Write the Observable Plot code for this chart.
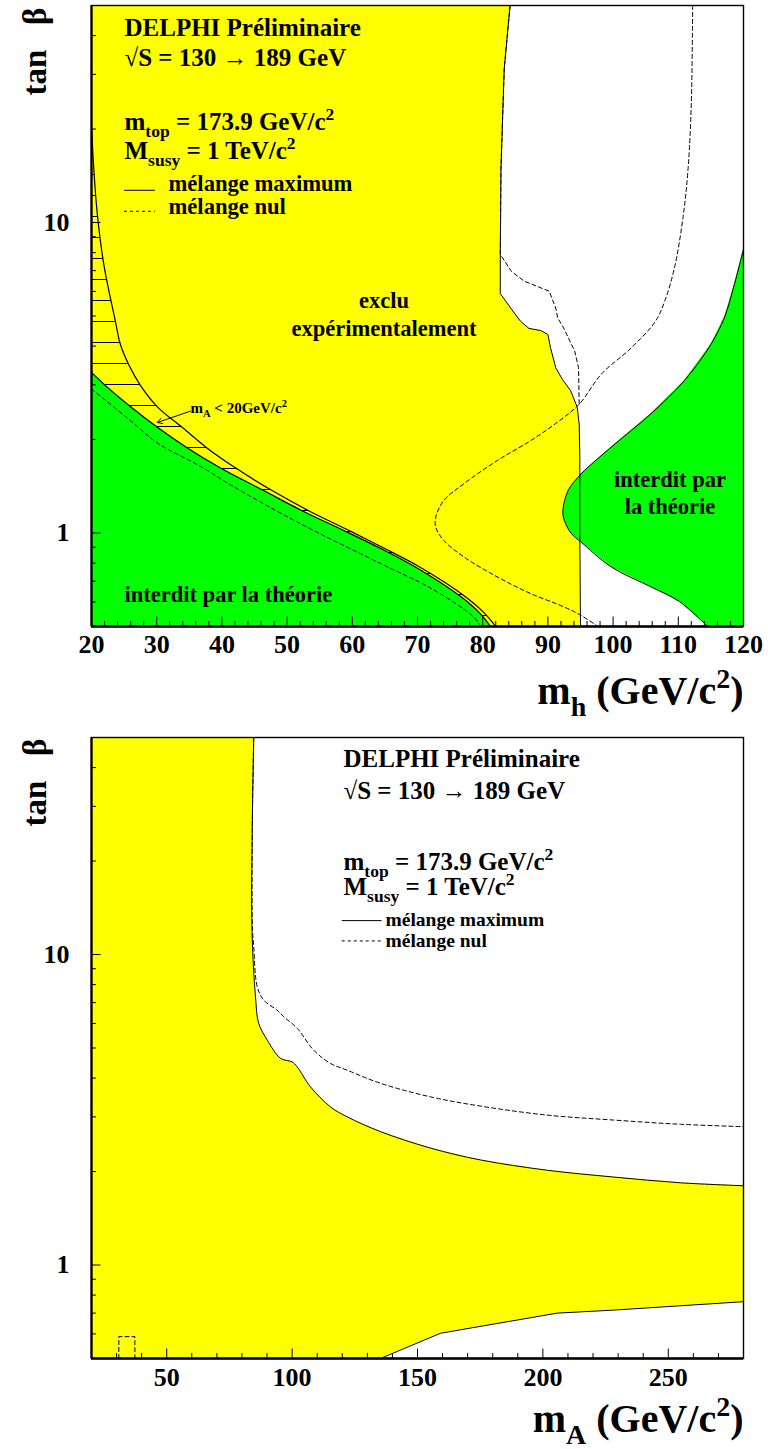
<!DOCTYPE html>
<html><head><meta charset="utf-8">
<script src="https://cdn.jsdelivr.net/npm/d3@7"></script>
<script src="https://cdn.jsdelivr.net/npm/@observablehq/plot@0.6"></script>
<style>
html,body{margin:0;padding:0;background:#fff;overflow:hidden;}
#chart svg{display:block;}
</style></head>
<body><div id="chart"></div>
<script>
// ---------------- DATA : top panel (m_h vs tan beta) ----------------
const topXLabels = [20, 30, 40, 50, 60, 70, 80, 90, 100, 110, 120];
const yLabels = [1, 10];
const yMinorTicks = [0.6, 0.7, 0.8, 0.9, 2, 3, 4, 5, 6, 7, 8, 9, 20, 30, 40];

// experimental exclusion, maximal mixing (solid)
const exclTopMh = [84.2, 83.3, 82.8, 82.7, 82.7, 84.3, 85.8, 87.1, 88.9, 90.0, 90.4, 91.2, 92.2, 93.5, 94.5, 94.8, 94.9, 94.9, 95.0];
const exclTopTb = [50, 31.2, 14.9, 7.89, 5.90, 5.30, 4.81, 4.56, 4.49, 4.36, 3.95, 3.41, 3.13, 2.87, 2.54, 2.24, 1.75, 0.95, 0.5];
// experimental exclusion, no mixing (dashed)
const exclNulMh = [84.2, 83.3, 82.8, 82.7, 84.4, 86.4, 90.2, 91.2, 91.5, 92.4, 94.1, 94.7, 94.8];
const exclNulTb = [50, 31.2, 14.9, 7.89, 6.96, 6.47, 6.01, 5.30, 4.93, 4.58, 3.86, 3.41, 2.60];
// theoretical bound, no mixing (dashed)
const theoNulMh = [112.2, 112.0, 111.5, 110.7, 109.4, 107.9, 106.5, 102.8, 98.2, 94.8, 91.4, 87.3, 82.2, 77.1, 74.0, 72.8, 72.8, 74.0, 77.1, 82.2, 87.3, 92.4, 95.0, 97.7];
const theoNulTb = [50, 24.4, 14.9, 10.3, 7.13, 5.57, 4.81, 3.95, 3.25, 2.60, 2.27, 1.98, 1.71, 1.44, 1.27, 1.125, 1.045, 0.948, 0.838, 0.723, 0.639, 0.579, 0.544, 0.5];
// m_A < 20 GeV/c2 boundary (upper solid, hatched region)
const mA20Mh = [20.0, 20.35, 20.9, 21.9, 23.7, 24.4, 25.7, 27.5, 30.1, 33.9, 37.7, 42.3, 47.7, 53.3, 60.0, 64.9, 70.0, 74.1, 77.7, 80.3, 82.0];
const mA20Tb = [20.5, 14.9, 10.6, 7.31, 4.77, 4.07, 3.49, 2.99, 2.55, 2.19, 1.88, 1.61, 1.37, 1.18, 1.007, 0.893, 0.785, 0.695, 0.615, 0.551, 0.5];
// theoretical lower-left bound, maximal mixing (green, solid)
const theoLowMh = [20.0, 22.1, 26.0, 30.1, 34.7, 40.0, 46.4, 52.3, 59.2, 64.9, 70.0, 74.1, 77.7, 79.7, 81.2];
const theoLowTb = [3.29, 2.99, 2.55, 2.19, 1.88, 1.61, 1.37, 1.18, 1.007, 0.88, 0.77, 0.68, 0.60, 0.548, 0.5];
// theoretical lower-left bound, no mixing (dashed)
const theoLowNulMh = [20.0, 26.0, 30.1, 36.7, 41.8, 52.1, 64.9, 72.0, 78.6, 79.7];
const theoLowNulTb = [2.91, 2.30, 1.95, 1.64, 1.41, 1.07, 0.787, 0.665, 0.537, 0.5];
// theoretical right bound, maximal mixing (green, solid)
const theoRightMh = [120, 118.6, 117.1, 115.0, 110.9, 105.8, 99.7, 95.1, 93.1, 92.3, 92.5, 93.6, 95.1, 99.7, 105.8, 110.2, 114.5];
const theoRightTb = [8.2, 6.32, 4.96, 4.05, 3.09, 2.42, 1.89, 1.55, 1.37, 1.18, 1.10, 0.996, 0.935, 0.778, 0.671, 0.601, 0.5];
// annotation arrow (m_h, tan beta): from, to
const arrowMA20 = [35.2, 2.47, 30.1, 2.27];
// legend sample lines (m_h from, m_h to, tan beta)
const topLegendSolid = [25.06, 29.8, 12.7];
const topLegendDash = [25.06, 29.8, 10.87];

// ---------------- DATA : bottom panel (m_A vs tan beta) ----------------
const botXLabels = [50, 100, 150, 200, 250];
const exclBotMa = [84.7, 84.1, 84.0, 85.4, 86.7, 90.1, 95.4, 100.0, 102.0, 107.3, 115.3, 122.0, 135.2, 155.2, 175.1, 201.7, 228.3, 254.9, 280];
const exclBotTb = [50, 25.1, 12.0, 7.31, 6.0, 5.30, 4.63, 4.51, 4.35, 3.75, 3.23, 3.00, 2.69, 2.38, 2.18, 2.02, 1.92, 1.84, 1.80];
const lowBotMa = [135.2, 159.2, 205.7, 228.3, 280];
const lowBotTb = [0.5, 0.603, 0.700, 0.716, 0.762];
const nulBotMa = [84.7, 84.1, 84.2, 84.7, 86.1, 88.7, 94.0, 96.7, 102.0, 108.6, 115.3, 122.0, 135.2, 155.2, 175.1, 201.7, 228.3, 254.9, 280];
const nulBotTb = [50, 25.1, 12.0, 10.6, 7.87, 7.13, 6.62, 6.30, 5.79, 4.92, 4.46, 4.24, 3.85, 3.48, 3.25, 3.04, 2.93, 2.84, 2.79];
const boxNulMa = [30.9, 30.9, 37.3, 37.3];
const boxNulTb = [0.5, 0.588, 0.588, 0.5];
const botLegendSolid = [120.0, 135.9, 12.86];
const botLegendDash = [120.0, 135.9, 11.06];

// ---------------- helpers ----------------
const FONT = "'Liberation Serif','Times New Roman',Times,serif";
const YELLOW = "#ffff00", GREEN = "#00ff00";
const pts = (xs, ys) => xs.map((x, i) => ({x, y: ys[i]}));
const DASH = "4,3";

function richify(svg) {
  for (const t of svg.querySelectorAll("text")) {
    if (t.querySelector("tspan")) continue;
    const s = t.textContent;
    if (!/[_^]\{/.test(s)) continue;
    const fs = parseFloat(getComputedStyle(t).fontSize);
    t.textContent = "";
    const re = /([_^])\{([^}]*)\}/g;
    let last = 0, m, cur = 0;
    const add = (txt, off, small) => {
      const ts = document.createElementNS("http://www.w3.org/2000/svg", "tspan");
      const dy = off - cur;
      if (dy) ts.setAttribute("dy", dy.toFixed(2));
      if (small) ts.setAttribute("font-size", (fs * 0.7).toFixed(2));
      ts.textContent = txt;
      t.appendChild(ts);
      cur = off;
    };
    while ((m = re.exec(s))) {
      if (m.index > last) add(s.slice(last, m.index), 0, false);
      add(m[2], m[1] === "_" ? fs * 0.3 : -fs * 0.4, true);
      last = re.lastIndex;
    }
    if (last < s.length) add(s.slice(last), 0, false);
  }
}

function tickMarks(xMajor, xMinor, fw, fh) {
  return [
    Plot.tickX(xMinor, {x: d => d, insetTop: fh - 5, stroke: "black"}),
    Plot.tickX(xMajor, {x: d => d, insetTop: fh - 9.5, stroke: "black"}),
    Plot.tickY(yMinorTicks, {y: d => d, insetRight: fw - 5, stroke: "black"}),
    Plot.tickY(yLabels, {y: d => d, insetRight: fw - 9.5, stroke: "black"})
  ];
}
function label(str, o) {
  return Plot.text([str], {text: d => d, fontWeight: "bold", fill: "black", ...o});
}
function frameMarks(xmin, ymin) {
  return [
    Plot.frame({stroke: "black", strokeWidth: 1.4}),
    Plot.ruleX([xmin], {stroke: "black", strokeWidth: 2.2}),
    Plot.ruleY([ymin], {stroke: "black", strokeWidth: 2.6})
  ];
}

const chart = document.getElementById("chart");

// ---------------- TOP PANEL ----------------
{
  const W = 768, H = 720, mt = 5, mb = 94, ml = 91, mr = 25;
  const fw = W - ml - mr, fh = H - mt - mb;
  const topXMinor = d3.range(22, 120, 2).filter(v => v % 10 !== 0);
  const lgS = [{x1: topLegendSolid[0], x2: topLegendSolid[1], y: topLegendSolid[2]}];
  const lgD = [{x1: topLegendDash[0], x2: topLegendDash[1], y: topLegendDash[2]}];
  const svg = Plot.plot({
    width: W, height: H, marginTop: mt, marginBottom: mb, marginLeft: ml, marginRight: mr,
    style: {fontFamily: FONT, fontWeight: "bold", fontSize: "26px", color: "black", background: "white", overflow: "visible"},
    x: {domain: [20, 120], ticks: topXLabels, tickSize: 0, tickPadding: 8, label: null, tickFormat: d => String(d)},
    y: {type: "log", domain: [0.5, 50], ticks: yLabels, tickSize: 0, tickPadding: 22, label: null, tickFormat: d => String(d)},
    marks: [
      Plot.areaX(pts(exclTopMh, exclTopTb), {y: "y", x1: 20, x2: "x", fill: YELLOW}),
      Plot.areaY(pts(mA20Mh, mA20Tb), {x: "x", y1: 0.5, y2: "y", fill: "url(#hatchMA)"}),
      Plot.areaY(pts(theoLowMh, theoLowTb), {x: "x", y1: 0.5, y2: "y", fill: GREEN}),
      Plot.areaX(pts(theoRightMh, theoRightTb), {y: "y", x1: "x", x2: 120, fill: GREEN}),
      Plot.line(pts(theoLowNulMh, theoLowNulTb), {x: "x", y: "y", stroke: "black", strokeWidth: 1, strokeDasharray: DASH, curve: "catmull-rom"}),
      Plot.line(pts(theoNulMh, theoNulTb), {x: "x", y: "y", stroke: "black", strokeWidth: 1, strokeDasharray: DASH, curve: "catmull-rom"}),
      Plot.line(pts(exclNulMh, exclNulTb), {x: "x", y: "y", stroke: "black", strokeWidth: 1, strokeDasharray: DASH}),
      Plot.line(pts(theoLowMh, theoLowTb), {x: "x", y: "y", stroke: "black", strokeWidth: 1.2, curve: "catmull-rom"}),
      Plot.line(pts(mA20Mh, mA20Tb), {x: "x", y: "y", stroke: "black", strokeWidth: 1.2, curve: "catmull-rom"}),
      Plot.line(pts(theoRightMh, theoRightTb), {x: "x", y: "y", stroke: "black", strokeWidth: 1, curve: "catmull-rom"}),
      Plot.line(pts(exclTopMh, exclTopTb), {x: "x", y: "y", stroke: "black", strokeWidth: 1}),
      Plot.arrow([arrowMA20], {x1: d => d[0], y1: d => d[1], x2: d => d[2], y2: d => d[3], stroke: "black", strokeWidth: 1, headLength: 8}),
      Plot.ruleY(lgS, {y: "y", x1: "x1", x2: "x2", stroke: "black", strokeWidth: 1}),
      Plot.ruleY(lgD, {y: "y", x1: "x1", x2: "x2", stroke: "black", strokeWidth: 1, strokeDasharray: "3,3"}),
      label("DELPHI Préliminaire", {frameAnchor: "top-left", textAnchor: "start", lineAnchor: "bottom", dx: 33, dy: 30, fontSize: 25}),
      label("√S = 130 → 189 GeV", {frameAnchor: "top-left", textAnchor: "start", lineAnchor: "bottom", dx: 33, dy: 60, fontSize: 25}),
      label("m_{top} = 173.9 GeV/c^{2}", {frameAnchor: "top-left", textAnchor: "start", lineAnchor: "bottom", dx: 33, dy: 124.3, fontSize: 25}),
      label("M_{susy} = 1 TeV/c^{2}", {frameAnchor: "top-left", textAnchor: "start", lineAnchor: "bottom", dx: 33, dy: 153.3, fontSize: 25}),
      label("mélange maximum", {frameAnchor: "top-left", textAnchor: "start", lineAnchor: "bottom", dx: 77, dy: 185.5, fontSize: 22.6}),
      label("mélange nul", {frameAnchor: "top-left", textAnchor: "start", lineAnchor: "bottom", dx: 77, dy: 208.3, fontSize: 22.6}),
      label("exclu\nexpérimentalement", {frameAnchor: "top-left", textAnchor: "middle", lineAnchor: "bottom", lineHeight: 1.22, dx: 292.5, dy: 330, fontSize: 22.5}),
      label("interdit par la théorie", {frameAnchor: "top-left", textAnchor: "start", lineAnchor: "bottom", dx: 33, dy: 596.7, fontSize: 22.5}),
      label("interdit par\nla théorie", {frameAnchor: "top-left", textAnchor: "middle", lineAnchor: "bottom", lineHeight: 1.2, dx: 578.5, dy: 508.5, fontSize: 22.5}),
      label("m_{A} < 20GeV/c^{2}", {frameAnchor: "top-left", textAnchor: "start", lineAnchor: "bottom", dx: 99, dy: 407, fontSize: 15}),
      label("m_{h} (GeV/c^{2})", {frameAnchor: "bottom-right", textAnchor: "end", lineAnchor: "bottom", dx: 0, dy: 77, fontSize: 40}),
      label("tan\u00A0\u00A0\u00A0β", {frameAnchor: "top-left", textAnchor: "end", lineAnchor: "bottom", rotate: -90, dx: -46, dy: 2, fontSize: 33}),
      ...tickMarks(topXLabels, topXMinor, fw, fh),
      ...frameMarks(20, 0.5)
    ]
  });
  // hatch pattern for the m_A < 20 region
  const NS = "http://www.w3.org/2000/svg";
  const defs = document.createElementNS(NS, "defs");
  const pat = document.createElementNS(NS, "pattern");
  pat.setAttribute("id", "hatchMA");
  pat.setAttribute("patternUnits", "userSpaceOnUse");
  pat.setAttribute("x", "0"); pat.setAttribute("y", "6");
  pat.setAttribute("width", "8"); pat.setAttribute("height", "21");
  const ln = document.createElementNS(NS, "line");
  ln.setAttribute("x1", "0"); ln.setAttribute("x2", "8");
  ln.setAttribute("y1", "0.5"); ln.setAttribute("y2", "0.5");
  ln.setAttribute("stroke", "black"); ln.setAttribute("stroke-width", "1");
  pat.appendChild(ln); defs.appendChild(pat);
  svg.insertBefore(defs, svg.firstChild);
  chart.appendChild(svg);
  richify(svg);
}

// ---------------- BOTTOM PANEL ----------------
{
  const W = 768, H = 729, mt = 17, mb = 91, ml = 91, mr = 25;
  const fw = W - ml - mr, fh = H - mt - mb;
  const botXMinor = d3.range(30, 280, 10).filter(v => v % 50 !== 0);
  const yellowPts = pts(exclBotMa, exclBotTb).concat([{x: exclBotMa[exclBotMa.length - 1], y: 0.5}]);
  const lgS = [{x1: botLegendSolid[0], x2: botLegendSolid[1], y: botLegendSolid[2]}];
  const lgD = [{x1: botLegendDash[0], x2: botLegendDash[1], y: botLegendDash[2]}];
  const svg = Plot.plot({
    width: W, height: H, marginTop: mt, marginBottom: mb, marginLeft: ml, marginRight: mr,
    style: {fontFamily: FONT, fontWeight: "bold", fontSize: "26px", color: "black", background: "white", overflow: "visible"},
    x: {domain: [20, 280], ticks: botXLabels, tickSize: 0, tickPadding: 9, label: null, tickFormat: d => String(d)},
    y: {type: "log", domain: [0.5, 50], ticks: yLabels, tickSize: 0, tickPadding: 22, label: null, tickFormat: d => String(d)},
    marks: [
      Plot.areaX(yellowPts, {y: "y", x1: 20, x2: "x", fill: YELLOW}),
      Plot.areaY(pts(lowBotMa, lowBotTb), {x: "x", y1: 0.5, y2: "y", fill: "white"}),
      Plot.line(pts(nulBotMa, nulBotTb), {x: "x", y: "y", stroke: "black", strokeWidth: 1, strokeDasharray: DASH, curve: "catmull-rom"}),
      Plot.line(pts(boxNulMa, boxNulTb), {x: "x", y: "y", stroke: "black", strokeWidth: 1, strokeDasharray: DASH}),
      Plot.line(pts(exclBotMa, exclBotTb), {x: "x", y: "y", stroke: "black", strokeWidth: 1, curve: "catmull-rom"}),
      Plot.line(pts(lowBotMa, lowBotTb), {x: "x", y: "y", stroke: "black", strokeWidth: 1}),
      Plot.ruleY(lgS, {y: "y", x1: "x1", x2: "x2", stroke: "black", strokeWidth: 1}),
      Plot.ruleY(lgD, {y: "y", x1: "x1", x2: "x2", stroke: "black", strokeWidth: 1, strokeDasharray: "3,3"}),
      label("DELPHI Préliminaire", {frameAnchor: "top-left", textAnchor: "start", lineAnchor: "bottom", dx: 252, dy: 29.7, fontSize: 25}),
      label("√S = 130 → 189 GeV", {frameAnchor: "top-left", textAnchor: "start", lineAnchor: "bottom", dx: 252, dy: 61.3, fontSize: 25}),
      label("m_{top} = 173.9 GeV/c^{2}", {frameAnchor: "top-left", textAnchor: "start", lineAnchor: "bottom", dx: 252, dy: 132, fontSize: 25}),
      label("M_{susy} = 1 TeV/c^{2}", {frameAnchor: "top-left", textAnchor: "start", lineAnchor: "bottom", dx: 252, dy: 157, fontSize: 25}),
      label("mélange maximum", {frameAnchor: "top-left", textAnchor: "start", lineAnchor: "bottom", dx: 294, dy: 188, fontSize: 19.5}),
      label("mélange nul", {frameAnchor: "top-left", textAnchor: "start", lineAnchor: "bottom", dx: 294, dy: 209.7, fontSize: 19.5}),
      label("m_{A} (GeV/c^{2})", {frameAnchor: "bottom-right", textAnchor: "end", lineAnchor: "bottom", dx: 0, dy: 73.5, fontSize: 40}),
      label("tan\u00A0\u00A0\u00A0β", {frameAnchor: "top-left", textAnchor: "end", lineAnchor: "bottom", rotate: -90, dx: -46, dy: 1, fontSize: 33}),
      ...tickMarks(botXLabels, botXMinor, fw, fh),
      ...frameMarks(20, 0.5)
    ]
  });
  chart.appendChild(svg);
  richify(svg);
}
</script>
</body></html>
